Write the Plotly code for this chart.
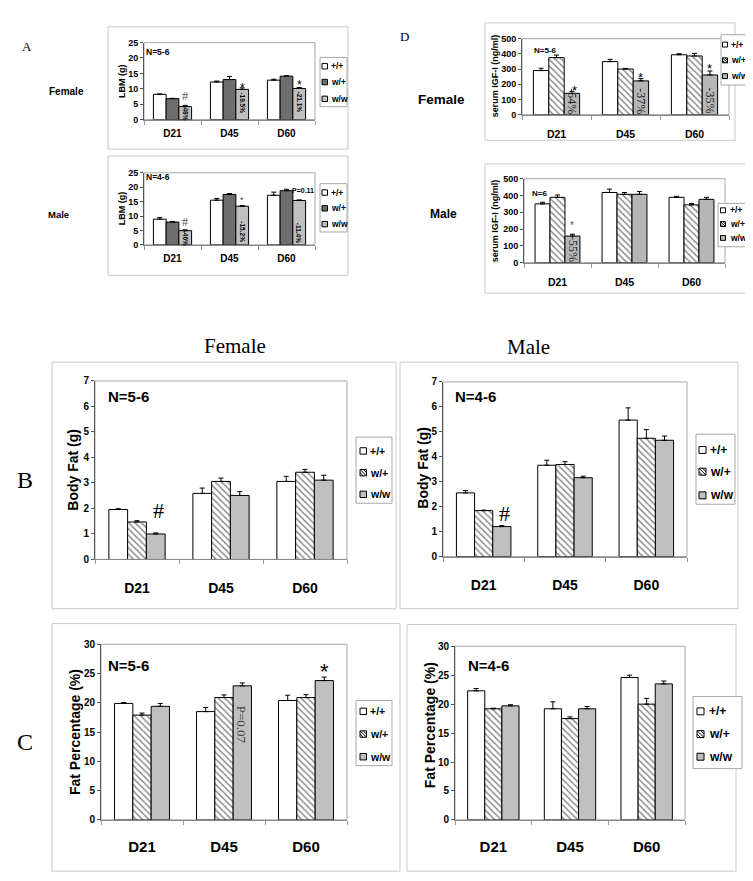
import plotly.graph_objects as go

W, H = 753, 881

categories = ["D21", "D45", "D60"]
genotypes = ["+/+", "w/+", "w/w"]

# Panel A: lean body mass, LBM (g)
lbm_f_pp = [8.2, 12.2, 12.8]
lbm_f_pp_err = [0.1, 0.3, 0.3]
lbm_f_wp = [6.8, 13.0, 14.1]
lbm_f_wp_err = [0.1, 1.0, 0.1]
lbm_f_ww = [4.2, 9.8, 10.1]
lbm_f_ww_err = [0.4, 0.5, 0.3]

lbm_m_pp = [8.9, 15.5, 17.2]
lbm_m_pp_err = [0.6, 0.6, 1.1]
lbm_m_wp = [7.9, 17.5, 18.8]
lbm_m_wp_err = [0.2, 0.3, 0.5]
lbm_m_ww = [4.9, 13.4, 15.4]
lbm_m_ww_err = [0.3, 0.2, 0.2]

# Panel D: serum IGF-I (ng/ml)
igf_f_pp = [290, 349, 394]
igf_f_pp_err = [15, 15, 7]
igf_f_wp = [375, 300, 386]
igf_f_wp_err = [17, 4, 17]
igf_f_ww = [140, 222, 261]
igf_f_ww_err = [13, 15, 26]

igf_m_pp = [350, 418, 389]
igf_m_pp_err = [10, 20, 6]
igf_m_wp = [389, 407, 344]
igf_m_wp_err = [14, 11, 8]
igf_m_ww = [158, 407, 377]
igf_m_ww_err = [11, 17, 12]

# Panel B: body fat (g)
fat_f_pp = [1.96, 2.59, 3.06]
fat_f_pp_err = [0.03, 0.21, 0.20]
fat_f_wp = [1.47, 3.06, 3.42]
fat_f_wp_err = [0.05, 0.13, 0.11]
fat_f_ww = [1.00, 2.51, 3.11]
fat_f_ww_err = [0.04, 0.15, 0.19]

fat_m_pp = [2.55, 3.66, 5.47]
fat_m_pp_err = [0.09, 0.20, 0.49]
fat_m_wp = [1.84, 3.69, 4.74]
fat_m_wp_err = [0.02, 0.11, 0.35]
fat_m_ww = [1.20, 3.16, 4.66]
fat_m_ww_err = [0.04, 0.06, 0.17]

# Panel C: fat percentage (%)
pct_f_pp = [19.9, 18.5, 20.4]
pct_f_pp_err = [0.15, 0.7, 0.9]
pct_f_wp = [17.9, 20.9, 20.9]
pct_f_wp_err = [0.35, 0.45, 0.5]
pct_f_ww = [19.4, 22.9, 23.8]
pct_f_ww_err = [0.5, 0.5, 0.6]

pct_m_pp = [22.3, 19.2, 24.6]
pct_m_pp_err = [0.4, 1.2, 0.4]
pct_m_wp = [19.2, 17.5, 20.0]
pct_m_wp_err = [0.1, 0.3, 1.0]
pct_m_ww = [19.7, 19.2, 23.5]
pct_m_ww_err = [0.2, 0.4, 0.5]

SANS = "Liberation Sans"
SERIF = "Liberation Serif"
BAR_GAP = 0.33
BW = (1 - BAR_GAP) / 3
xi = [0, 1, 2]

FILLS_A = ["white", "#6e6e6e", "#c0c0c0"]
FILLS_H = ["white", "hatch", "#c0c0c0"]
FILLS_D = ["white", "hatch", "#b6b6b6"]


def X(px):
    return px / W


def Y(py):
    return 1 - py / H


fig = go.Figure()
layout = {}
shapes = []
annotations = []


def names(n):
    s = "" if n == 1 else str(n)
    return "xaxis" + s, "yaxis" + s, "x" + s, "y" + s


def add_panel(n, plot, ymax, dtick, series, fills, tfs, xfs, standoff):
    xa, ya, xr, yr = names(n)
    x0, x1, yt, yb = plot
    for name, (vals, errs), fill in zip(genotypes, series, fills):
        marker = dict(line=dict(color="black", width=1))
        if fill == "hatch":
            marker["color"] = "white"
            marker["pattern"] = dict(shape="\\", fgcolor="black", bgcolor="white",
                                     size=4.5, solidity=0.3)
        else:
            marker["color"] = fill
        fig.add_trace(go.Bar(
            x=xi, y=vals, name=name, marker=marker,
            error_y=dict(type="data", array=errs, arrayminus=[0] * len(errs),
                         symmetric=False, color="black", thickness=1, width=2.5),
            xaxis=xr, yaxis=yr, showlegend=False))
    layout[xa] = dict(
        domain=[X(x0), X(x1)], anchor=yr, range=[-0.5, 2.5],
        tickmode="array", tickvals=xi, ticktext=categories, ticks="",
        showline=True, linecolor="#888", linewidth=1, showgrid=False, zeroline=False,
        tickfont=dict(family=SANS, size=xfs, color="black", weight="bold"),
        ticklabelstandoff=standoff,
        minor=dict(tickmode="array", tickvals=[-0.5, 0.5, 1.5, 2.5], ticks="outside",
                   ticklen=4, tickcolor="#999", tickwidth=1, showgrid=False),
        fixedrange=True)
    layout[ya] = dict(
        domain=[Y(yb), Y(yt)], anchor=xr, range=[0, ymax], dtick=dtick,
        ticks="outside", ticklen=3, tickcolor="#555", tickwidth=1,
        showline=True, linecolor="#555", linewidth=1, showgrid=False, zeroline=False,
        tickfont=dict(family=SANS, size=tfs, color="black", weight="bold"),
        fixedrange=True)
    shapes.append(dict(type="rect", xref="paper", yref="paper",
                       x0=X(x0), x1=X(x1), y0=Y(yb), y1=Y(yt),
                       line=dict(color="#a8a8a8", width=1), layer="below"))
    return xr, yr


def box(x0, x1, y0, y1, color="#c8c8c8"):
    shapes.append(dict(type="rect", xref="paper", yref="paper",
                       x0=X(x0), x1=X(x1), y0=Y(y1), y1=Y(y0),
                       line=dict(color=color, width=1), layer="below"))


def ptext(text, px, py, size, family=SANS, bold=True, angle=0, color="black",
          xanchor="center"):
    annotations.append(dict(
        text=text, x=X(px), y=Y(py), xref="paper", yref="paper", showarrow=False,
        xanchor=xanchor, yanchor="middle", textangle=angle,
        font=dict(family=family, size=size, color=color,
                  weight="bold" if bold else "normal")))


def dtext(text, xr, yr, x, y, size, family=SANS, bold=False, angle=0,
          color="black", xshift=0, yshift=0):
    annotations.append(dict(
        text=text, x=x, y=y, xref=xr, yref=yr, showarrow=False,
        xanchor="center", yanchor="middle", textangle=angle,
        xshift=xshift, yshift=yshift,
        font=dict(family=family, size=size, color=color,
                  weight="bold" if bold else "normal")))


def star(xr, yr, x, y, size, color="black", xshift=0):
    dtext("*", xr, yr, x, y, size, color=color, xshift=xshift, yshift=-0.22 * size)


def legend(bx, ys, sw_x, sw, tx, fs, fills):
    x0, x1, y0, y1 = bx
    shapes.append(dict(type="rect", xref="paper", yref="paper",
                       x0=X(x0), x1=X(x1), y0=Y(y1), y1=Y(y0),
                       line=dict(color="#a8a8a8", width=1), fillcolor="white",
                       layer="above"))
    for name, cy, fill in zip(genotypes, ys, fills):
        sx0, sx1 = sw_x, sw_x + sw
        st, sb = cy - sw / 2, cy + sw / 2
        shapes.append(dict(type="rect", xref="paper", yref="paper",
                           x0=X(sx0), x1=X(sx1), y0=Y(sb), y1=Y(st),
                           fillcolor="white" if fill == "hatch" else fill,
                           line=dict(color="black", width=1), layer="above"))
        if fill == "hatch":
            segs = [(sx0, st, sx1, sb),
                    (sx0, st + sw / 2, sx0 + sw / 2, sb),
                    (sx0 + sw / 2, st, sx1, st + sw / 2)]
            for a, b, c, d in segs:
                shapes.append(dict(type="line", xref="paper", yref="paper",
                                   x0=X(a), y0=Y(b), x1=X(c), y1=Y(d),
                                   line=dict(color="black", width=1), layer="above"))
        ptext(name, tx, cy, fs, xanchor="left")


# ---------------- Panel A ----------------
box(100, 340, 13, 137)
box(100, 340, 144, 265)
xr, yr = add_panel(1, (136, 307, 29, 107), 25, 5,
                   [(lbm_f_pp, lbm_f_pp_err), (lbm_f_wp, lbm_f_wp_err), (lbm_f_ww, lbm_f_ww_err)],
                   FILLS_A, 9, 10, 4)
dtext("#", xr, yr, 0 + BW, 7.6, 12, family=SERIF, color="#555")
dtext("-48%", xr, yr, 0 + BW, 2.3, 6.5, bold=True, angle=90)
star(xr, yr, 1 + BW, 11.0, 12)
dtext("-19.5%", xr, yr, 1 + BW, 5.5, 6.5, bold=True, angle=90)
star(xr, yr, 2 + BW, 12.2, 12)
dtext("-21.1%", xr, yr, 2 + BW, 5.8, 6.5, bold=True, angle=90)
ptext("N=5-6", 150, 39, 8.5)
legend((312, 339, 44, 94), [53, 69, 86], 314, 5.5, 321, 8.5, FILLS_A)

xr, yr = add_panel(2, (136, 307, 161, 234), 25, 5,
                   [(lbm_m_pp, lbm_m_pp_err), (lbm_m_wp, lbm_m_wp_err), (lbm_m_ww, lbm_m_ww_err)],
                   FILLS_A, 9, 10, 4)
dtext("#", xr, yr, 0 + BW, 7.8, 12, family=SERIF, color="#555")
dtext("-46%", xr, yr, 0 + BW, 2.4, 6.5, bold=True, angle=90)
star(xr, yr, 1 + BW, 16.3, 9, color="#444")
dtext("-15.2%", xr, yr, 1 + BW, 4.6, 6.5, bold=True, angle=90)
dtext("P=0.11", xr, yr, 2 + BW, 18.7, 7, bold=True, xshift=4)
dtext("-11.4%", xr, yr, 2 + BW, 4.1, 6.5, bold=True, angle=90)
ptext("N=4-6", 150, 165, 8.5)
legend((312, 339, 172, 221), [181, 197, 213], 314, 5.5, 321, 8.5, FILLS_A)

ptext("A", 19, 33, 13, family=SERIF, bold=False)
ptext("Female", 58, 79, 10)
ptext("Male", 50, 203, 9.5)
ptext("LBM (g)", 114, 68, 9, angle=-90)
ptext("LBM (g)", 114, 197, 9, angle=-90)

# ---------------- Panel D ----------------
box(477, 727, 9, 128)
box(477, 742, 152, 283)
xr, yr = add_panel(3, (514, 721, 25, 102), 500, 100,
                   [(igf_f_pp, igf_f_pp_err), (igf_f_wp, igf_f_wp_err), (igf_f_ww, igf_f_ww_err)],
                   FILLS_D, 9, 10.5, 10)
star(xr, yr, 0 + BW, 175, 13, xshift=3)
dtext("-54%", xr, yr, 0 + BW, 88, 12, family=SERIF, angle=90, color="#222")
star(xr, yr, 1 + BW, 262, 13)
dtext("-37%", xr, yr, 1 + BW, 89, 12, family=SERIF, angle=90, color="#222")
star(xr, yr, 2 + BW, 320, 13)
dtext("-35%", xr, yr, 2 + BW, 93, 12, family=SERIF, angle=90, color="#222")
ptext("N=5-6", 537, 37, 8)
legend((713, 739, 21, 72), [31, 47, 63], 714.5, 5, 721, 8.5, FILLS_D)

xr, yr = add_panel(4, (516, 717, 167, 252), 500, 100,
                   [(igf_m_pp, igf_m_pp_err), (igf_m_wp, igf_m_wp_err), (igf_m_ww, igf_m_ww_err)],
                   FILLS_D, 9, 10.5, 10)
star(xr, yr, 0 + BW, 237, 10, color="#555")
dtext("-55%", xr, yr, 0 + BW, 78, 12, family=SERIF, angle=90, color="#222")
ptext("N=6", 531, 182, 8)
legend((710, 739, 192, 236), [199, 213, 227], 712.5, 5, 719.5, 8.5, FILLS_D)

ptext("D", 396, 23, 13, family=SERIF, bold=False)
ptext("Female", 433, 87, 13.5)
ptext("Male", 435, 203, 12)
ptext("serum IGF-I (ng/ml)", 487, 63, 9, angle=-90)
ptext("serum IGF-I (ng/ml)", 487, 210, 9, angle=-90)

# ---------------- Panel B ----------------
box(44, 388, 353, 603)
box(392, 730, 353, 603)
xr, yr = add_panel(5, (87, 339, 372, 553), 7, 1,
                   [(fat_f_pp, fat_f_pp_err), (fat_f_wp, fat_f_wp_err), (fat_f_ww, fat_f_ww_err)],
                   FILLS_H, 10, 14, 16)
dtext("#", xr, yr, 0 + BW, 1.93, 22, family=SERIF, xshift=3)
ptext("N=5-6", 120, 388, 15)
legend((348, 384, 429, 496), [443, 465, 487], 352, 6.5, 360, 10.5, FILLS_H)

xr, yr = add_panel(6, (435, 679, 373, 550), 7, 1,
                   [(fat_m_pp, fat_m_pp_err), (fat_m_wp, fat_m_wp_err), (fat_m_ww, fat_m_ww_err)],
                   FILLS_H, 10, 14, 16)
dtext("#", xr, yr, 0 + BW, 1.74, 22, family=SERIF, xshift=3)
ptext("N=4-6", 467, 388, 15)
legend((688, 727, 426, 497), [442, 464, 488], 691, 7, 700, 12, FILLS_H)

ptext("Female", 227, 337, 21, family=SERIF, bold=False)
ptext("Male", 520, 338, 21, family=SERIF, bold=False)
ptext("B", 17, 472, 24, family=SERIF, bold=False)
ptext("Body Fat (g)", 65, 462, 14, angle=-90)
ptext("Body Fat (g)", 415, 460, 14, angle=-90)

# ---------------- Panel C ----------------
box(44, 392, 618, 869)
box(399, 728, 619, 869)
xr, yr = add_panel(7, (93, 339, 639, 817), 30, 5,
                   [(pct_f_pp, pct_f_pp_err), (pct_f_wp, pct_f_wp_err), (pct_f_ww, pct_f_ww_err)],
                   FILLS_H, 10, 15, 13)
star(xr, yr, 2 + BW, 26.2, 22)
dtext("P=0.07", xr, yr, 1 + BW, 16.2, 13, family=SERIF, angle=90, color="#444")
ptext("N=5-6", 120, 660, 15)
legend((348, 384, 696, 762), [707, 730, 753], 352, 6.5, 360, 10.5, FILLS_H)

xr, yr = add_panel(8, (447, 677, 641, 817), 30, 5,
                   [(pct_m_pp, pct_m_pp_err), (pct_m_wp, pct_m_wp_err), (pct_m_ww, pct_m_ww_err)],
                   FILLS_H, 10, 15, 13)
ptext("N=4-6", 480, 660, 15)
legend((685, 734, 692, 765), [707, 730, 753], 689, 7, 699, 12, FILLS_H)

ptext("C", 17, 738, 24, family=SERIF, bold=False)
ptext("Fat Percentage (%)", 67, 728, 14, angle=-90)
ptext("Fat Percentage (%)", 422, 721, 14, angle=-90)

fig.update_layout(
    width=W, height=H, margin=dict(l=0, r=0, t=0, b=0),
    paper_bgcolor="white", plot_bgcolor="white",
    barmode="group", bargap=BAR_GAP, bargroupgap=0,
    shapes=shapes, annotations=annotations, showlegend=False,
    **layout)

fig.write_html("out.html")
